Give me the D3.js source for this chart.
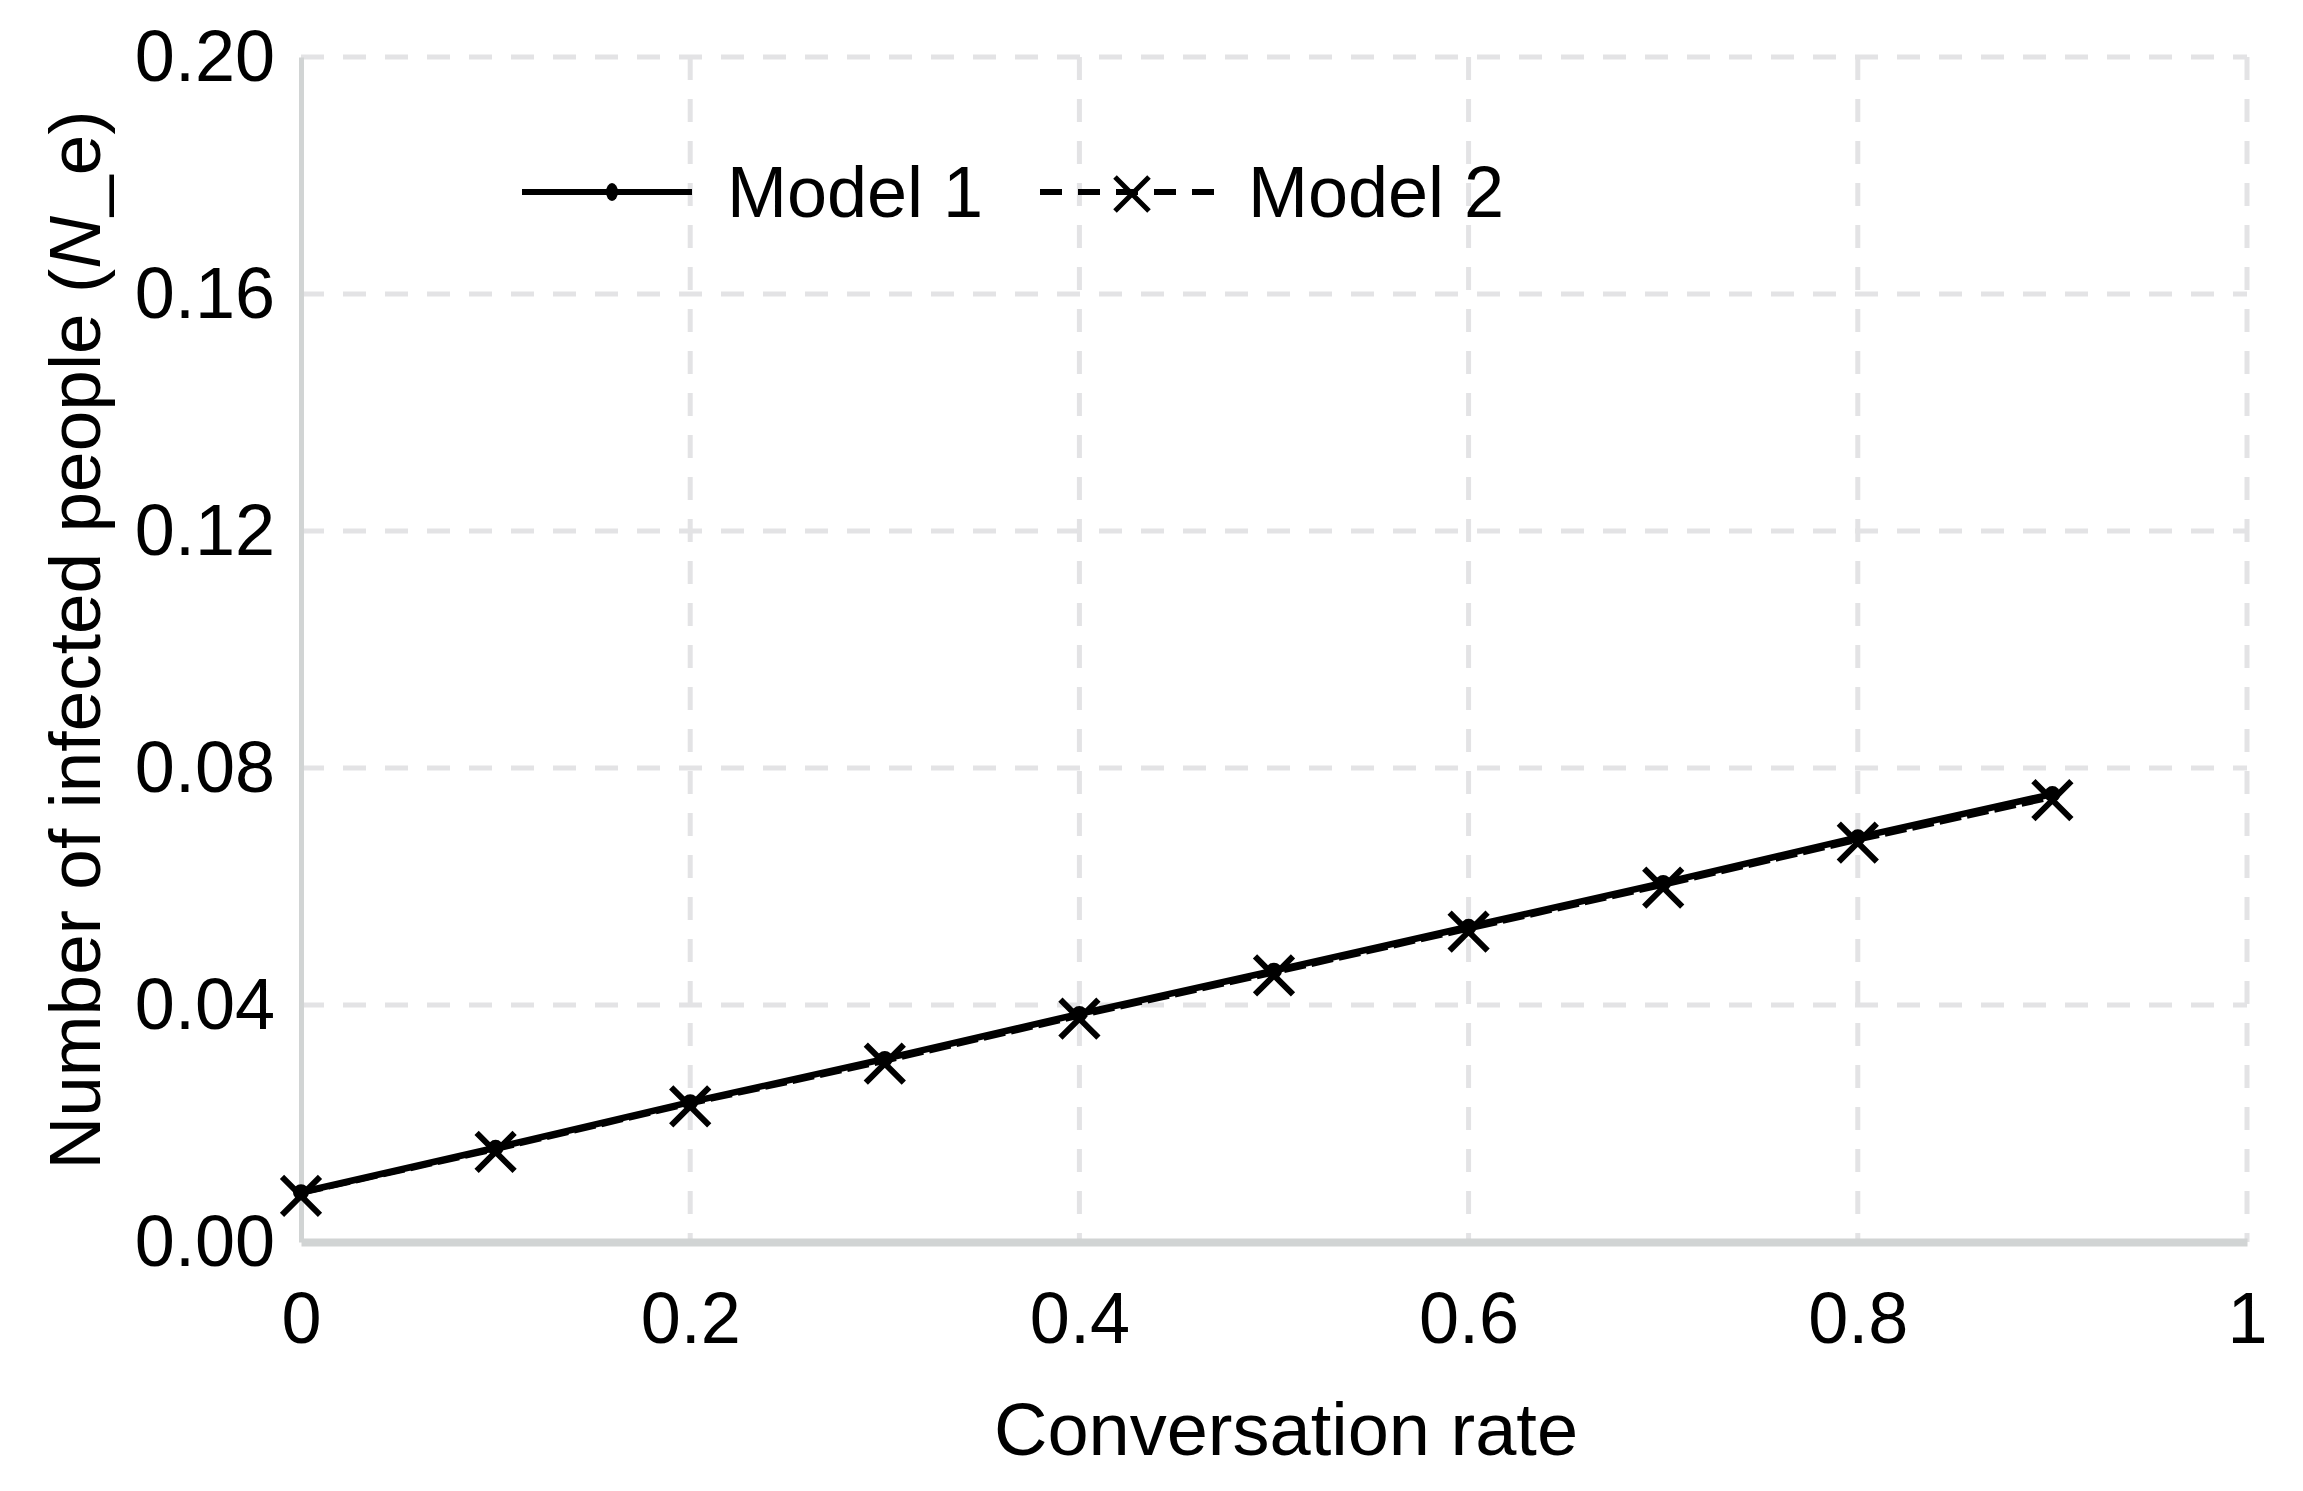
<!DOCTYPE html>
<html>
<head>
<meta charset="utf-8">
<script src="https://cdn.jsdelivr.net/npm/d3@7"></script>
<style>
  body { margin: 0; background: #fff; }
  text { font-family: "Liberation Sans", Arial, sans-serif; fill: #000; }
</style>
</head>
<body>
<svg id="chart"></svg>
<script>
const rates = [0, 0.1, 0.2, 0.3, 0.4, 0.5, 0.6, 0.7, 0.8, 0.9];
const model1 = [0.0084, 0.0159, 0.0236, 0.0309, 0.0385, 0.0458, 0.0532, 0.0606, 0.0683, 0.0756];
const model2 = [0.0083, 0.0157, 0.0234, 0.0306, 0.0382, 0.0455, 0.0529, 0.0603, 0.0679, 0.0751];
const xTicks = [0, 0.2, 0.4, 0.6, 0.8, 1];
const yTicks = [0, 0.04, 0.08, 0.12, 0.16, 0.2];

const width = 2303, height = 1491;
const margin = { top: 57, right: 56, bottom: 249, left: 301 };
const w = width - margin.left - margin.right;
const h = height - margin.top - margin.bottom;

const svg = d3.select("#chart").attr("width", width).attr("height", height);
const g = svg.append("g").attr("transform", `translate(${margin.left},${margin.top})`);

const x = d3.scaleLinear().domain([0, 1]).range([0, w]);
const y = d3.scaleLinear().domain([0, 0.2]).range([h, 0]);

// grid
g.append("g").selectAll("line").data(yTicks.slice(1)).join("line")
  .attr("x1", 0).attr("x2", w)
  .attr("y1", d => y(d)).attr("y2", d => y(d))
  .attr("stroke", "#e3e3e5").attr("stroke-width", 5).attr("stroke-dasharray", "23,19");
g.append("g").selectAll("line").data(xTicks.slice(1)).join("line")
  .attr("x1", d => x(d)).attr("x2", d => x(d))
  .attr("y1", 0).attr("y2", h)
  .attr("stroke", "#e3e3e5").attr("stroke-width", 5).attr("stroke-dasharray", "23,19");

// axes
const xAxis = g.append("g").attr("transform", `translate(0,${h})`)
  .call(d3.axisBottom(x).tickValues(xTicks).tickSize(0).tickPadding(50).tickFormat(d3.format("")));
xAxis.select(".domain").attr("stroke", "#d1d4d4").attr("stroke-width", 8);
xAxis.selectAll("text").style("font-size", "72px").attr("fill", "#000");

const yAxis = g.append("g")
  .call(d3.axisLeft(y).tickValues(yTicks).tickSize(0).tickPadding(26).tickFormat(d3.format(".2f")));
yAxis.select(".domain").attr("stroke", "#d1d4d4").attr("stroke-width", 5);
yAxis.selectAll("text").style("font-size", "72px").attr("fill", "#000");

// lines
const line = d3.line().x((d, i) => x(rates[i])).y(d => y(d));
g.append("path").datum(model1).attr("d", line)
  .attr("fill", "none").attr("stroke", "#000").attr("stroke-width", 6.5);
g.append("path").datum(model2).attr("d", line)
  .attr("fill", "none").attr("stroke", "#000").attr("stroke-width", 6).attr("stroke-dasharray", "22,6");

g.selectAll(".dot").data(model1).join("circle").attr("class", "dot")
  .attr("cx", (d, i) => x(rates[i])).attr("cy", d => y(d)).attr("r", 8).attr("fill", "#000");

const cross = s => `M${-s},${-s}L${s},${s}M${-s},${s}L${s},${-s}`;
g.selectAll(".xm").data(model2).join("path").attr("class", "xm")
  .attr("transform", (d, i) => `translate(${x(rates[i])},${y(d) + 3})`)
  .attr("d", cross(19)).attr("stroke", "#000").attr("stroke-width", 6).attr("fill", "none");

// axis titles
svg.append("text").attr("x", 1286).attr("y", 1455)
  .attr("text-anchor", "middle").style("font-size", "74px").text("Conversation rate");

const yt = svg.append("text").attr("transform", "translate(100,640) rotate(-90)")
  .attr("text-anchor", "middle").style("font-size", "73px");
yt.append("tspan").text("Number of infected people (");
yt.append("tspan").style("font-style", "italic").text("N");
yt.append("tspan").text("_e)");

// legend
const leg = svg.append("g");
leg.append("line").attr("x1", 522).attr("x2", 692).attr("y1", 192).attr("y2", 192)
  .attr("stroke", "#000").attr("stroke-width", 6);
leg.append("ellipse").attr("cx", 612).attr("cy", 192).attr("rx", 6).attr("ry", 9).attr("fill", "#000");
leg.append("text").attr("x", 727).attr("y", 217).style("font-size", "72px").text("Model 1");

leg.append("line").attr("x1", 1040).attr("x2", 1228).attr("y1", 192).attr("y2", 192)
  .attr("stroke", "#000").attr("stroke-width", 6).attr("stroke-dasharray", "22,16");
leg.append("path").attr("transform", "translate(1132,194)").attr("d", cross(17))
  .attr("stroke", "#000").attr("stroke-width", 5).attr("fill", "none");
leg.append("text").attr("x", 1248).attr("y", 217).style("font-size", "72px").text("Model 2");
</script>
</body>
</html>
